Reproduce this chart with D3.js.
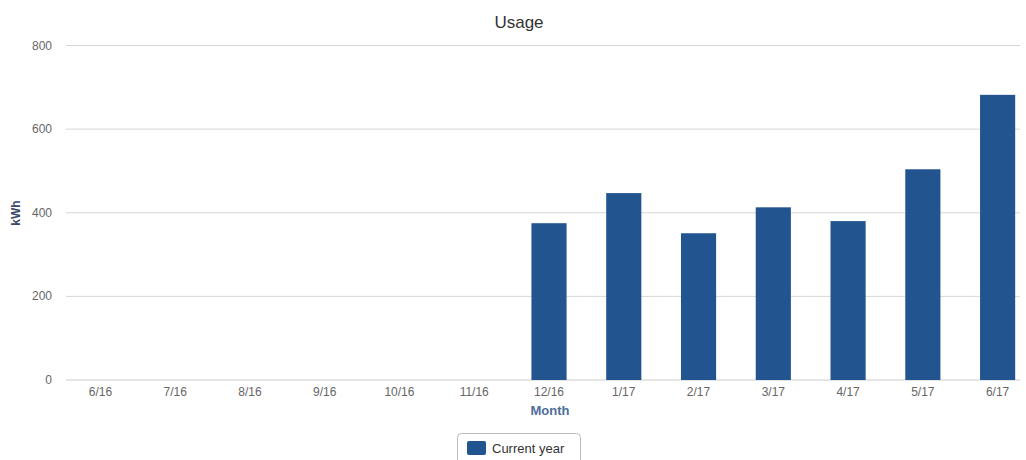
<!DOCTYPE html>
<html>
<head>
<meta charset="utf-8">
<script src="https://cdn.jsdelivr.net/npm/d3@7"></script>
<style>
  body { margin: 0; background: #fff; }
  text { font-family: "Liberation Sans", Arial, sans-serif; }
</style>
</head>
<body>
<svg id="chart" width="1026" height="460"></svg>
<script>
// Monthly usage in kWh
const months = ["6/16", "7/16", "8/16", "9/16", "10/16", "11/16", "12/16",
                "1/17", "2/17", "3/17", "4/17", "5/17", "6/17"];
const usage = [0, 0, 0, 0, 0, 0, 375, 447, 351, 413, 380, 504, 682];
const yTicks = [0, 200, 400, 600, 800];

const svg = d3.select("#chart");

const x = d3.scaleBand().domain(months).range([63, 1035]).paddingInner(0.53).paddingOuter(0.265);
const y = d3.scaleLinear().domain([0, 800]).range([380, 45.5]);

// Title
svg.append("text")
    .attr("x", 519).attr("y", 28)
    .attr("text-anchor", "middle")
    .attr("font-size", 17)
    .attr("fill", "#333")
    .text("Usage");

// Grid lines
svg.append("g")
    .selectAll("line")
    .data(yTicks)
    .join("line")
    .attr("x1", 66).attr("x2", 1020)
    .attr("y1", d => y(d)).attr("y2", d => y(d))
    .attr("stroke", d => d === 0 ? "#ccc" : "#d6d6d6")
    .attr("stroke-width", 1);

// Y axis labels
svg.append("g")
    .selectAll("text")
    .data(yTicks)
    .join("text")
    .attr("x", 52).attr("y", d => y(d) + 4)
    .attr("text-anchor", "end")
    .attr("font-size", 12)
    .attr("fill", "#666")
    .text(d => d);

// Bars
svg.append("g")
    .selectAll("rect")
    .data(usage)
    .join("rect")
    .attr("x", (d, i) => x(months[i]))
    .attr("y", d => y(d))
    .attr("width", x.bandwidth())
    .attr("height", d => y(0) - y(d))
    .attr("fill", "#22548f");

// X axis labels
svg.append("g")
    .selectAll("text")
    .data(months)
    .join("text")
    .attr("x", d => x(d) + x.bandwidth() / 2)
    .attr("y", 396)
    .attr("text-anchor", "middle")
    .attr("font-size", 12)
    .attr("fill", "#666")
    .text(d => d);

// Axis titles
svg.append("text")
    .attr("x", 550).attr("y", 415)
    .attr("text-anchor", "middle")
    .attr("font-size", 13)
    .attr("font-weight", "bold")
    .attr("fill", "#4d6d9a")
    .text("Month");

svg.append("text")
    .attr("transform", "translate(20,213) rotate(-90)")
    .attr("text-anchor", "middle")
    .attr("font-size", 12)
    .attr("font-weight", "bold")
    .attr("fill", "#3a4a66")
    .text("kWh");

// Legend
const legend = svg.append("g");
legend.append("rect")
    .attr("x", 457.5).attr("y", 433.5)
    .attr("width", 123).attr("height", 34)
    .attr("rx", 4)
    .attr("fill", "#fff")
    .attr("stroke", "#bbb");
legend.append("rect")
    .attr("x", 467).attr("y", 441)
    .attr("width", 19).attr("height", 14)
    .attr("rx", 2)
    .attr("fill", "#22548f");
legend.append("text")
    .attr("x", 492).attr("y", 453)
    .attr("font-size", 13)
    .attr("fill", "#333")
    .text("Current year");
</script>
</body>
</html>
